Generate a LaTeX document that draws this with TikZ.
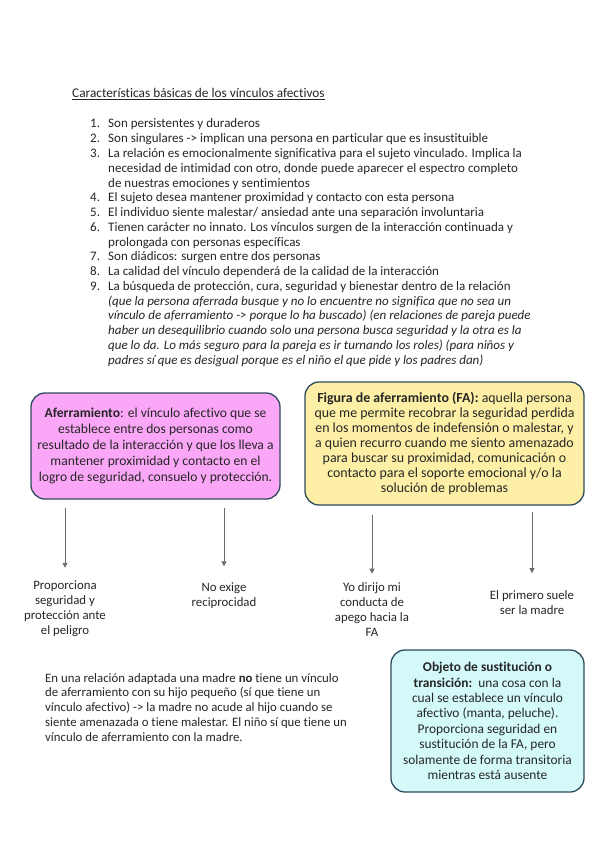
\documentclass[tikz,border=0pt]{standalone}
\usepackage{fontspec}
\setmainfont{Carlito}[Ligatures=NoCommon]
\usepackage{xcolor}
\usetikzlibrary{arrows.meta, positioning}
\definecolor{boxedge}{HTML}{2F4A5C}
\definecolor{pinkfill}{HTML}{FBA7F8}
\definecolor{yellowfill}{HTML}{FDF0A6}
\definecolor{cyanfill}{HTML}{D4F9F9}
\definecolor{inkgray}{HTML}{262626}
\definecolor{arrowgray}{HTML}{6B6B6B}

\begin{document}
\begin{tikzpicture}[x=1pt, y=-1pt, font=\fontsize{13}{14.75}\selectfont, text=inkgray,
    >={Triangle[width=5pt, length=5pt]},
    listnum/.style={anchor=base west, inner sep=0pt},
    listtext/.style={anchor=base west, align=left, inner sep=0pt},
    conceptbox/.style={draw=boxedge, line width=1.3pt, rounded corners=14pt, align=center, inner sep=0pt},
    leaf/.style={anchor=base, align=center, inner sep=0pt, font=\fontsize{12.8}{14.75}\selectfont},
    down/.style={draw=arrowgray, line width=0.8pt, ->}]
    \fill[white] (0,0) rectangle (599,848);
    \useasboundingbox (0,0) rectangle (599,848);

    % titulo y lista (base = ultima linea)
    \node[listtext, font=\fontsize{13.3}{14.75}\selectfont] (title) at (72,98) {\underline{Características básicas de los vínculos afectivos}};

    \node[listnum] (n1) at (90,128) {1.};
    \node[listtext] (item1) at (108,128) {Son persistentes y duraderos};
    \node[listnum] (n2) at (90,142.75) {2.};
    \node[listtext] (item2) at (108,142.75) {Son singulares -> implican una persona en particular que es insustituible};
    \node[listnum] (n3) at (90,157.5) {3.};
    \node[listtext] (item3) at (108,187) {La relación es emocionalmente significativa para el sujeto vinculado. Implica la\\
        necesidad de intimidad con otro, donde puede aparecer el espectro completo\\
        de nuestras emociones y sentimientos};
    \node[listnum] (n4) at (90,201.75) {4.};
    \node[listtext] (item4) at (108,201.75) {El sujeto desea mantener proximidad y contacto con esta persona};
    \node[listnum] (n5) at (90,216.5) {5.};
    \node[listtext] (item5) at (108,216.5) {El individuo siente malestar/ ansiedad ante una separación involuntaria};
    \node[listnum] (n6) at (90,231.25) {6.};
    \node[listtext] (item6) at (108,246) {Tienen carácter no innato. Los vínculos surgen de la interacción continuada y\\
        prolongada con personas específicas};
    \node[listnum] (n7) at (90,260.75) {7.};
    \node[listtext] (item7) at (108,260.75) {Son diádicos: surgen entre dos personas};
    \node[listnum] (n8) at (90,275.5) {8.};
    \node[listtext] (item8) at (108,275.5) {La calidad del vínculo dependerá de la calidad de la interacción};
    \node[listnum] (n9) at (90,290.25) {9.};
    \node[listtext] (item9) at (108,364) {La búsqueda de protección, cura, seguridad y bienestar dentro de la relación\\
        \itshape(que la persona aferrada busque y no lo encuentre no significa que no sea un\\
        \itshape vínculo de aferramiento -> porque lo ha buscado) (en relaciones de pareja puede\\
        \itshape haber un desequilibrio cuando solo una persona busca seguridad y la otra es la\\
        \itshape que lo da. Lo más seguro para la pareja es ir turnando los roles) (para niños y\\
        \itshape padres sí que es desigual porque es el niño el que pide y los padres dan)};

    % cajas de conceptos
    \node[conceptbox, fill=pinkfill, minimum width=249pt, minimum height=106pt,
        font=\fontsize{13.6}{16}\selectfont] (afer) at (155.5,446)
        {\textbf{Aferramiento}: el vínculo afectivo que se\\
        establece entre dos personas como\\
        resultado de la interacción y que los lleva a\\
        mantener proximidad y contacto en el\\
        logro de seguridad, consuelo y protección.};
    \node[conceptbox, fill=yellowfill, minimum width=279pt, minimum height=123pt,
        font=\fontsize{13.9}{14.9}\selectfont] (figura) at (444.5,443.5)
        {\textbf{Figura de aferramiento (FA):} aquella persona\\
        que me permite recobrar la seguridad perdida\\
        en los momentos de indefensión o malestar, y\\
        a quien recurro cuando me siento amenazado\\
        para buscar su proximidad, comunicación o\\
        contacto para el soporte emocional y/o la\\
        solución de problemas};

    % hojas (base = ultima linea)
    \node[leaf] (prop) at (65,634) {Proporciona\\seguridad y\\protección ante\\el peligro};
    \node[leaf] (recip) at (224,606) {No exige\\reciprocidad};
    \node[leaf] (dirijo) at (372,636) {Yo dirijo mi\\conducta de\\apego hacia la\\FA};
    \node[leaf] (madre) at (532,614) {El primero suele\\ser la madre};

    \draw[down] ([yshift=-8pt]afer.south -| prop.north) -- ([yshift=13pt]prop.north);
    \draw[down] ([yshift=-8pt]afer.south -| recip.north) -- ([yshift=16pt]recip.north);
    \draw[down] ([yshift=-9pt]figura.south -| dirijo.north) -- ([yshift=9pt]dirijo.north);
    \draw[down] ([yshift=-6pt]figura.south -| madre.north) -- ([yshift=17pt]madre.north);

    % nota y objeto de transicion
    \node[listtext, font=\fontsize{12.8}{14.75}\selectfont] (nota) at (45,741)
        {En una relación adaptada una madre \textbf{no} tiene un vínculo\\
        de aferramiento con su hijo pequeño (sí que tiene un\\
        vínculo afectivo) -> la madre no acude al hijo cuando se\\
        siente amenazada o tiene malestar. El niño sí que tiene un\\
        vínculo de aferramiento con la madre.};
    \node[conceptbox, fill=cyanfill, minimum width=193pt, minimum height=142pt,
        font=\fontsize{13.4}{15.4}\selectfont] (objeto) at (487.5,721)
        {\textbf{Objeto de sustitución o}\\
        \textbf{transición:}\ \ una cosa con la\\
        cual se establece un vínculo\\
        afectivo (manta, peluche).\\
        Proporciona seguridad en\\
        sustitución de la FA, pero\\
        solamente de forma transitoria\\
        mientras está ausente};
\end{tikzpicture}
\end{document}
